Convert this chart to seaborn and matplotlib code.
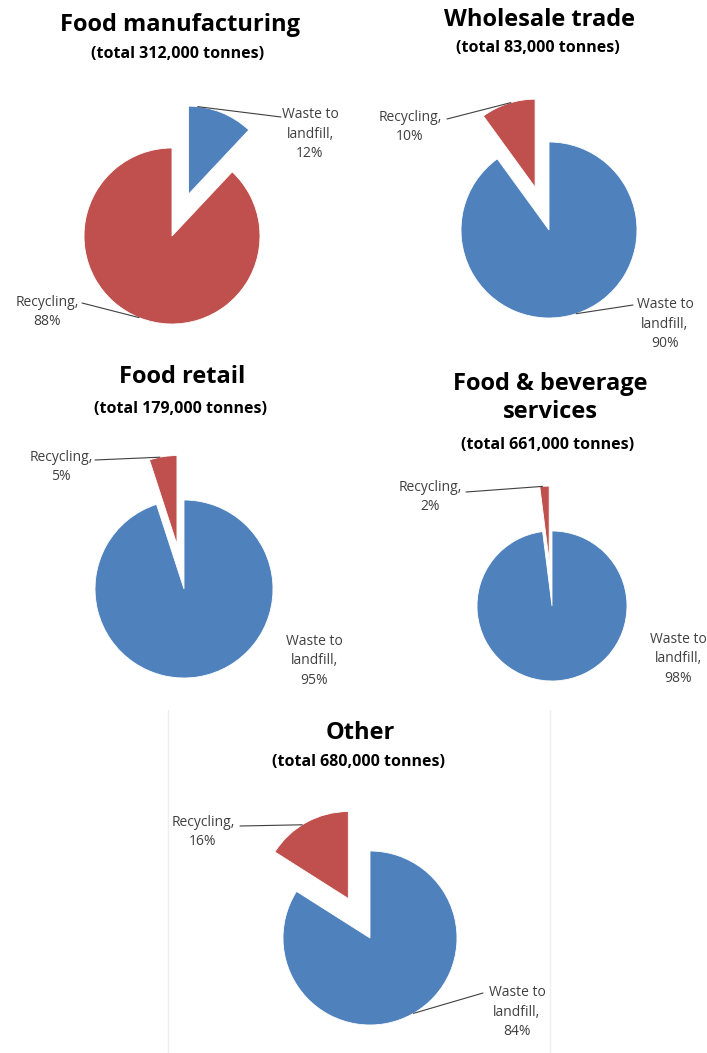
import matplotlib
matplotlib.use("Agg")
import matplotlib.pyplot as plt
import seaborn as sns
import numpy as np

# ---------------- data ----------------
sectors = ["Food manufacturing", "Wholesale trade", "Food retail",
           "Food & beverage\nservices", "Other"]
totals_tonnes = [312000, 83000, 179000, 661000, 680000]
categories = ["Waste to landfill", "Recycling"]
landfill_pct = [12, 90, 95, 98, 84]
recycling_pct = [88, 10, 5, 2, 16]

# ---------------- style ----------------
sns.set_theme(style="white")
plt.rcParams['font.family'] = ['Open Sans', 'DejaVu Sans']
colors = ["#4F81BD", "#C0504D"]  # landfill, recycling
label_color = "#404040"

W, H = 707, 1053
fig = plt.figure(figsize=(W / 100, H / 100), dpi=100)
ax = fig.add_axes([0, 0, 1, 1])
ax.set_xlim(0, W)
ax.set_ylim(H, 0)
ax.set_axis_off()

# layout per panel (pixel coords, y down)
layout = [
    dict(c=(172, 236), r=88, title_y=25, sub_y=54, tx=180,
         lab=[dict(pos=(310, 134), start=(281, 117), ang=84),
              dict(pos=(47, 312), start=(82, 303), ang=248)]),
    dict(c=(549, 230), r=88, title_y=20, sub_y=48, tx=540,
         lab=[dict(pos=(665, 324), start=(633, 305), ang=-72),
              dict(pos=(410, 127), start=(447, 119), ang=106)]),
    dict(c=(184, 589), r=89, title_y=377, sub_y=409, tx=182,
         lab=[dict(pos=(314, 661), start=None, ang=None),
              dict(pos=(61, 467), start=(95, 460), ang=101)]),
    dict(c=(552, 606), r=75, title_y=398, sub_y=445, tx=550,
         lab=[dict(pos=(678, 659), start=None, ang=None),
              dict(pos=(430, 497), start=(466, 492), ang=95)]),
    dict(c=(370, 938), r=87, title_y=733, sub_y=762, tx=360,
         lab=[dict(pos=(517, 1012), start=(483, 993), ang=-60),
              dict(pos=(203, 832), start=(240, 826), ang=122)]),
]

explode_px = 45

for i, sec in enumerate(sectors):
    L = layout[i]
    vals = [landfill_pct[i], recycling_pct[i]]
    small = int(np.argmin(vals))
    explode = [explode_px if k == small else 0 for k in range(2)]
    # y axis inverted: counterclock=True with startangle=-90 gives clockwise from top on screen
    wedges, _ = ax.pie(vals, colors=colors, startangle=-90, counterclock=True,
                       explode=explode, center=L["c"], radius=L["r"],
                       wedgeprops=dict(edgecolor="white", linewidth=0.6),
                       frame=True)
    # titles
    ax.text(L["tx"], L["title_y"], sec, ha="center", va="center",
            fontsize=17, fontweight="bold", color="black", linespacing=1.2)
    ax.text(L["tx"] - 2, L["sub_y"], f"(total {totals_tonnes[i]:,} tonnes)",
            ha="center", va="center", fontsize=11.5, fontweight="bold", color="black")
    # labels
    for k, cat in enumerate(categories):
        lab = L["lab"][k]
        if cat == "Waste to landfill":
            txt = f"Waste to\nlandfill,\n{vals[k]}%"
        else:
            txt = f"Recycling,\n{vals[k]}%"
        ax.text(lab["pos"][0], lab["pos"][1], txt, ha="center", va="center",
                fontsize=10, color=label_color, linespacing=1.4,
                multialignment="center")
        if lab["start"] is not None:
            w = wedges[k]
            cx, cy = w.center
            a = np.deg2rad(lab["ang"])
            px = cx + w.r * np.cos(a)
            py = cy - w.r * np.sin(a)
            ax.plot([lab["start"][0], px], [lab["start"][1], py],
                    color=label_color, lw=0.8)

ax.set_xlim(0, W)
ax.set_ylim(H, 0)
ax.set_aspect("equal", adjustable="box")
ax.set_axis_off()

# faint frame lines around the "Other" panel
ax.plot([168, 168], [710, H], color="#efefef", lw=1)
ax.plot([550, 550], [710, H], color="#efefef", lw=1)

fig.savefig("out.png", dpi=100, facecolor="white")
